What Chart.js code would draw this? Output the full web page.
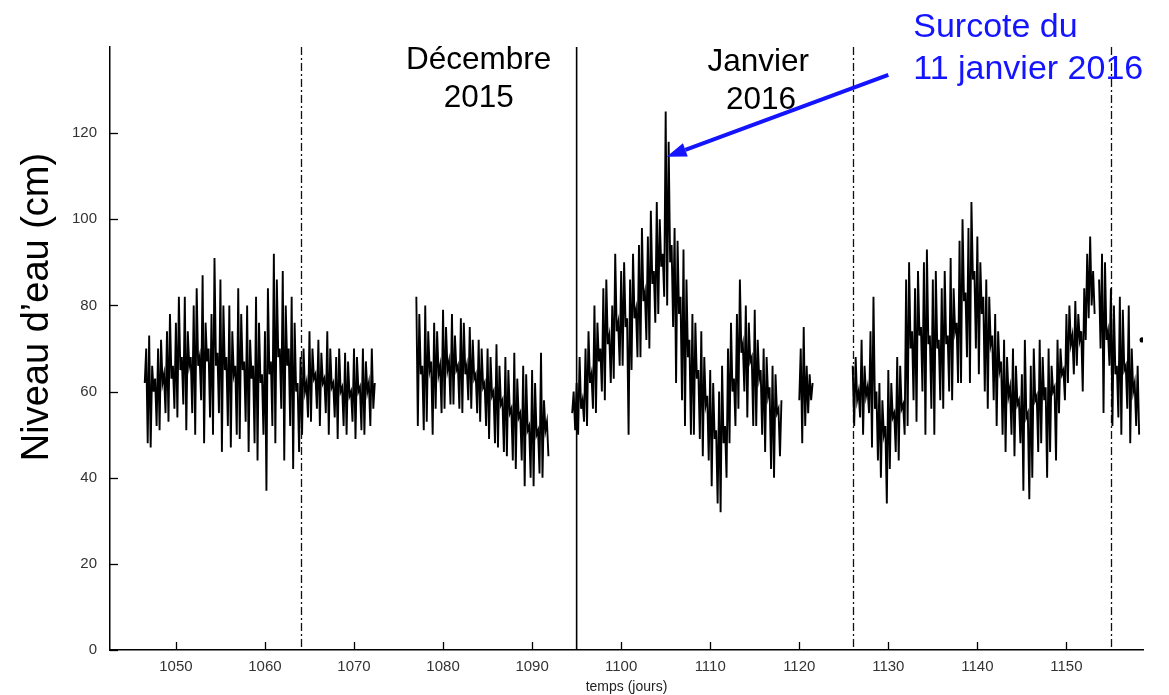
<!DOCTYPE html>
<html lang="fr">
<head>
<meta charset="utf-8">
<title>Niveau d'eau – décembre 2015 / janvier 2016</title>
<script src="https://cdn.jsdelivr.net/npm/chart.js@4/dist/chart.umd.min.js"></script>
<style>
  html, body { margin: 0; padding: 0; background: #fff; }
  canvas { display: block; }
</style>
</head>
<body>
<canvas id="niveau" width="1169" height="695"></canvas>
<script>
// Sampling step of the record (days): one value every 4 hours
const pasJours = 1 / 6;

// Water level records (cm), grouped by continuous stretch; null = missing value
const debutNov = 1046.5;
const niveauNov = [
  62, 70, 48,
  73, 47, 66, 60, 63, 52,   70, 51, 72, 62, 64, 55,   74, 53, 78, 63, 66, 56,
  76, 54, 82, 65, 68, 57,   82, 51, 74, 66, 68, 55,   80, 50, 84, 66, 68, 58,
  87, 48, 76, 67, 70, 54,   78, 50, 91, 66, 69, 55,   86, 46, 80, 65, 68, 52,
  80, 47, 74, 64, 66, 50,   84, 49, 78, 65, 67, 53,   80, 46, 72, 63, 66, 48,
  82, 44, 76, 62, 64, 50,   74, 37, 84, 64, 67, 52,   92, 48, 86, 68, 70, 56,
  88, 44, 80, 66, 70, 52,   82, 42, 76, 60, 62, 46,   68, 50, 70, 60, 62, 54,
  74, 53, 70, 63, 64, 56,   72, 52, 69, 62, 63, 55,   74, 50, 70, 61, 62, 54,
  68, 49, 70, 60, 61, 52,   69, 50, 67, 59, 60, 53,   70, 49, 68, 60, 61, 51,
  70, 50, 67, 60, 62, 52,
  70, 56, 62
];

const debutDec = 1077.0;
const niveauDec = [
  82, 52, 78, 64, 66, 51,   80, 53, 74, 65, 67, 50,   76, 56, 74, 64, 66, 55,
  79, 56, 75, 65, 67, 57,   78, 57, 73, 65, 66, 56,   77, 55, 76, 64, 66, 58,
  75, 56, 72, 63, 64, 55,   72, 53, 70, 61, 62, 52,   70, 49, 68, 59, 60, 48,
  71, 47, 66, 57, 58, 46,   68, 45, 65, 55, 56, 44,   69, 42, 63, 54, 55, 44,
  66, 38, 64, 51, 52, 40,   65, 38, 62, 50, 51, 41,   69, 40, 58, 51, 53, 45
];

const debutJan = 1094.5;
const niveauJan = [
  55, 60, 51,
  62, 50, 68, 56, 58, 53,   70, 52, 74, 62, 64, 56,   80, 55, 76, 67, 70, 60,
  84, 58, 86, 71, 73, 62,   80, 63, 92, 74, 76, 66,   88, 66, 90, 75, 77, 50,
  86, 65, 92, 77, 79, 68,   94, 68, 98, 81, 83, 72,   96, 70, 102, 85, 88, 76,
  104, 78, 100, 89, 92, 82, 125, 80, 118, 90, 94, 75, 98, 62, 95, 78, 82, 58,
  93, 52, 86, 68, 72, 50,   78, 50, 76, 63, 65, 49,   74, 45, 68, 57, 59, 44,
  65, 38, 62, 49, 51, 34,   60, 32, 66, 48, 52, 40,   70, 48, 76, 60, 63, 52,
  78, 56, 86, 69, 71, 60,   80, 54, 76, 67, 68, 52,   79, 52, 72, 63, 65, 50,
  70, 46, 68, 59, 61, 42,   66, 40, 64, 55, 56, 45,
  58
];

const debutJanFin = 1120.0;
const niveauJanFin = [58, 70, 48, 75, 52, 66, 55, 64, 58, 62];

const debutFev = 1126.0;
const niveauFev = [
  66, 52, 68, 58, 60, 54,   72, 50, 66, 59, 61, 55,   74, 47, 82, 56, 60, 44,
  62, 40, 58, 50, 52, 34,   65, 42, 62, 54, 55, 46,   68, 44, 66, 56, 57, 50,
  86, 52, 90, 70, 74, 58,   84, 53, 88, 73, 75, 60,   90, 50, 93, 71, 73, 56,
  86, 50, 88, 70, 72, 58,   84, 56, 88, 71, 73, 60,   91, 58, 84, 74, 76, 62,
  95, 62, 100, 81, 83, 68,  98, 62, 104, 86, 88, 70,  96, 64, 90, 78, 82, 60,
  86, 56, 82, 71, 73, 58,   78, 52, 74, 65, 67, 50,   72, 46, 68, 59, 61, 50,
  70, 45, 66, 57, 58, 48,   64, 37, 72, 54, 55, 35,   66, 40, 70, 58, 59, 46,
  72, 48, 68, 58, 61, 40,   70, 46, 66, 60, 61, 44,   72, 55, 70, 64, 65, 58,
  78, 62, 80, 71, 73, 64,   81, 66, 78, 72, 74, 60,   84, 72, 92, 77, 96, 80,
  88, 78, null, null, 86, 70,
  92, 55, 90, 72, 74, 66,   84, 52, 80, 64, 66, 54,   82, 50, 79, 65, 66, 56,
  80, 48, 70, 60, 62, 52,
  66, 50, null, 72
];

// Axis ticks
const ticksJours = [1050, 1060, 1070, 1080, 1090, 1100, 1110, 1120, 1130, 1140, 1150];
const ticksNiveau = [0, 20, 40, 60, 80, 100, 120];

// Month boundaries (days): dash-dot, except the turn of the year drawn solid
const limitesMois = [1064, 1126, 1155];
const changementAnnee = 1095;

// Build the {x, y} series, with a break between stretches
const troncons = [
  [debutNov, niveauNov], [debutDec, niveauDec], [debutJan, niveauJan],
  [debutJanFin, niveauJanFin], [debutFev, niveauFev]
];
const points = [];
troncons.forEach(([debut, valeurs], k) => {
  if (k > 0) points.push({ x: debut - pasJours / 2, y: null });
  valeurs.forEach((v, i) => points.push({ x: debut + i * pasJours, y: v }));
});

const police = "'Liberation Sans', Arial, Helvetica, sans-serif";

const decor = {
  id: 'decor',
  beforeDatasetsDraw(chart) {
    const { ctx, chartArea: a, scales: { x } } = chart;
    ctx.save();
    ctx.strokeStyle = '#111';
    ctx.lineWidth = 1.3;
    ctx.setLineDash([8, 3, 2, 3]);
    limitesMois.forEach(j => {
      const px = Math.round(x.getPixelForValue(j)) + 0.5;
      ctx.beginPath(); ctx.moveTo(px, a.top); ctx.lineTo(px, a.bottom); ctx.stroke();
    });
    ctx.setLineDash([]);
    ctx.lineWidth = 1.6;
    ctx.strokeStyle = '#000';
    const pa = x.getPixelForValue(changementAnnee);
    ctx.beginPath(); ctx.moveTo(pa, a.top); ctx.lineTo(pa, a.bottom); ctx.stroke();
    ctx.restore();
  },
  afterDraw(chart) {
    const { ctx, chartArea: a, scales: { x, y } } = chart;
    ctx.save();
    // inward tick marks
    ctx.strokeStyle = '#000';
    ctx.lineWidth = 1.3;
    ticksJours.forEach(j => {
      const px = Math.round(x.getPixelForValue(j)) + 0.5;
      ctx.beginPath(); ctx.moveTo(px, a.bottom); ctx.lineTo(px, a.bottom - 8); ctx.stroke();
    });
    ticksNiveau.forEach(n => {
      const py = Math.round(y.getPixelForValue(n)) + 0.5;
      ctx.beginPath(); ctx.moveTo(a.left, py); ctx.lineTo(a.left + 8, py); ctx.stroke();
    });

    // vertical axis title
    ctx.fillStyle = '#000';
    ctx.font = `38px ${police}`;
    ctx.textAlign = 'center';
    ctx.textBaseline = 'middle';
    ctx.save();
    ctx.translate(38, 307);
    ctx.rotate(-Math.PI / 2);
    ctx.fillText('Niveau d\u2019eau (cm)', 0, 0);
    ctx.restore();

    // month labels
    ctx.font = `31.5px ${police}`;
    ctx.fillText('Décembre', x.getPixelForValue(1084), y.getPixelForValue(137));
    ctx.fillText('2015', x.getPixelForValue(1084), y.getPixelForValue(128.2));
    ctx.fillText('Janvier', x.getPixelForValue(1115.4), y.getPixelForValue(136.5));
    ctx.fillText('2016', x.getPixelForValue(1115.7), y.getPixelForValue(127.7));

    // storm surge callout
    const bleu = '#1414ff';
    ctx.fillStyle = bleu;
    ctx.font = `34px ${police}`;
    ctx.textAlign = 'left';
    ctx.fillText('Surcote du', x.getPixelForValue(1132.8), y.getPixelForValue(144.4));
    ctx.fillText('11 janvier 2016', x.getPixelForValue(1132.8), y.getPixelForValue(134.7));

    const x0 = x.getPixelForValue(1130), y0 = y.getPixelForValue(133.5);
    const x1 = x.getPixelForValue(1105.1), y1 = y.getPixelForValue(114.5);
    const ang = Math.atan2(y1 - y0, x1 - x0);
    const tete = 20, demi = 7;
    const bx = x1 - tete * Math.cos(ang), by = y1 - tete * Math.sin(ang);
    ctx.strokeStyle = bleu;
    ctx.lineWidth = 4;
    ctx.beginPath(); ctx.moveTo(x0, y0); ctx.lineTo(bx, by); ctx.stroke();
    ctx.beginPath();
    ctx.moveTo(x1, y1);
    ctx.lineTo(bx + demi * Math.sin(ang), by - demi * Math.cos(ang));
    ctx.lineTo(bx - demi * Math.sin(ang), by + demi * Math.cos(ang));
    ctx.closePath();
    ctx.fill();
    ctx.restore();
  }
};

new Chart(document.getElementById('niveau'), {
  type: 'line',
  data: {
    datasets: [{
      data: points,
      borderColor: '#000',
      backgroundColor: '#000',
      borderWidth: 1.9,
      tension: 0,
      spanGaps: false,
      pointRadius: c => {
        const d = c.dataset.data, i = c.dataIndex;
        const seul = (!d[i - 1] || d[i - 1].y == null) && (!d[i + 1] || d[i + 1].y == null);
        return seul ? 1.6 : 0;
      },
      pointHoverRadius: 0
    }]
  },
  options: {
    responsive: false,
    animation: false,
    devicePixelRatio: 1,
    layout: { padding: { top: 47, right: 26, left: 0, bottom: 0 } },
    plugins: { legend: { display: false }, tooltip: { enabled: false } },
    scales: {
      x: {
        type: 'linear',
        min: 1042.6,
        max: 1158.6,
        afterBuildTicks: s => { s.ticks = ticksJours.map(v => ({ value: v })); },
        afterFit: s => { s.height = 45; },
        grid: { display: false, drawTicks: false },
        border: { display: true, color: '#000', width: 1.5 },
        ticks: { color: '#333', font: { family: police, size: 15 }, padding: 8, maxRotation: 0,
                 autoSkip: false, callback: v => String(v) },
        title: { display: true, text: 'temps (jours)', color: '#222',
                 font: { family: police, size: 14, lineHeight: 1.1 }, padding: { top: 0, bottom: 0 } }
      },
      y: {
        min: 0,
        max: 140,
        afterBuildTicks: s => { s.ticks = ticksNiveau.map(v => ({ value: v })); },
        afterFit: s => { s.width = 110; },
        grid: { display: false, drawTicks: false },
        border: { display: true, color: '#000', width: 1.5 },
        ticks: { color: '#333', font: { family: police, size: 15 }, padding: 13, callback: v => String(v) }
      }
    }
  },
  plugins: [decor]
});
</script>
</body>
</html>
